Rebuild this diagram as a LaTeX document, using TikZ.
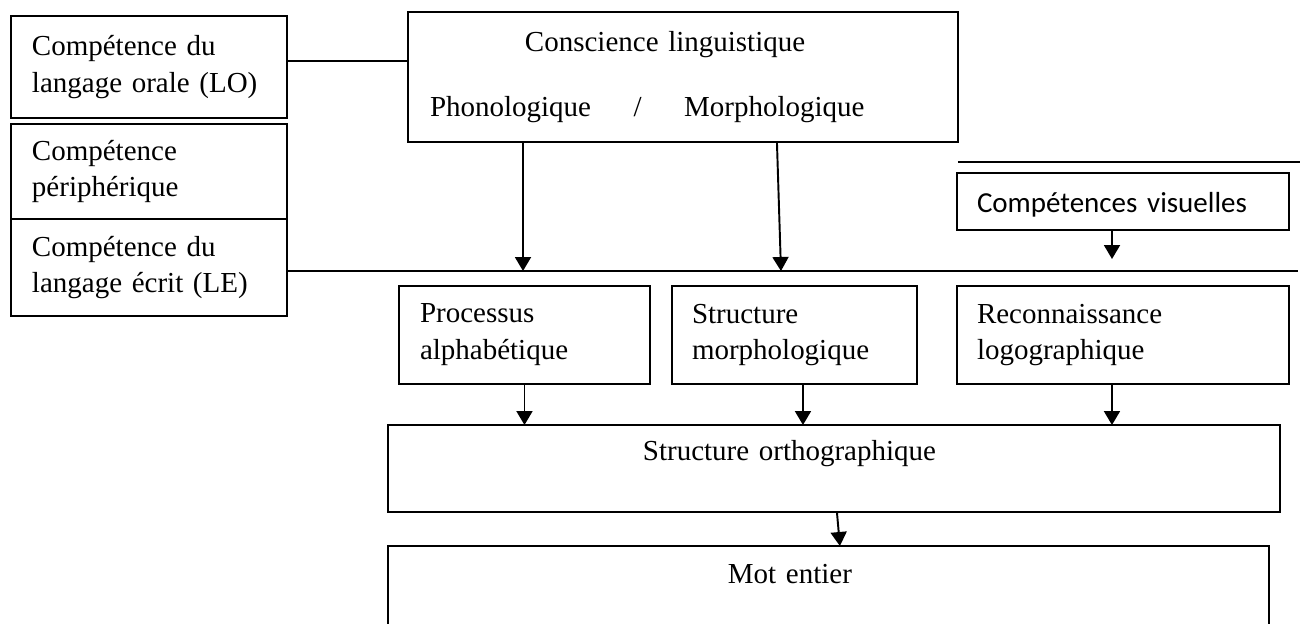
\documentclass[tikz,border=0pt]{standalone}
\usepackage{fontspec}
\setmainfont{Liberation Serif}
\newfontfamily\calibri{Carlito}
\usetikzlibrary{arrows.meta}

\begin{document}
\begin{tikzpicture}[x=0.02cm,y=-0.02cm,
	boite/.style={draw,line width=1.1pt,anchor=north west,inner ysep=0,outer sep=0,align=left,font=\fontsize{16.5}{21}\selectfont},
	trait/.style={line width=1.1pt},
	fleche/.style={line width=1.1pt,-{Triangle[length=0.28cm,width=0.32cm]}}]
	\useasboundingbox (0,0) rectangle (1301,623);
	\clip (0,0) rectangle (1301,623);
	\node[boite,minimum width=5.52cm,minimum height=2.04cm,inner xsep=0.42cm,text width=4.68cm] (lo) at (11,16) {Compétence du\\langage orale (LO)};
	\node[boite,minimum width=5.52cm,minimum height=1.90cm,inner xsep=0.42cm,text width=4.68cm] (periph) at (11,124) {Compétence\\périphérique};
	\node[boite,minimum width=5.52cm,minimum height=1.94cm,inner xsep=0.42cm,text width=4.68cm] (le) at (11,219) {Compétence du\\langage écrit (LE)};
	\node[boite,minimum width=11cm,minimum height=2.6cm,inner xsep=0.44cm,text width=10.12cm] (consc) at (408,12) {\hspace*{1.9cm}Conscience linguistique\\[16pt]Phonologique\hspace{0.85cm}/\hspace{0.85cm}Morphologique};
	\node[boite,minimum width=6.64cm,minimum height=1.14cm,inner xsep=0.4cm,text width=5.84cm,text height=0.45cm,text depth=0pt,font=\calibri\fontsize{16.5}{21}\selectfont] (visu) at (957,173) {Compétences visuelles};
	\node[boite,minimum width=5.02cm,minimum height=1.96cm,inner xsep=0.42cm,text width=4.18cm] (proc) at (399,286) {Processus\\alphabétique};
	\node[boite,minimum width=4.9cm,minimum height=1.96cm,inner xsep=0.4cm,text width=4.1cm] (struct) at (672,286) {Structure\\morphologique};
	\node[boite,minimum width=6.64cm,minimum height=1.96cm,inner xsep=0.4cm,text width=5.84cm] (recon) at (957,286) {Reconnaissance\\logographique};
	\node[boite,minimum width=17.84cm,minimum height=1.74cm,inner xsep=5.1cm,text width=7.64cm] (orth) at (388,425) {Structure orthographique\\~};
	\node[boite,minimum width=17.62cm,minimum height=1.86cm,inner xsep=6.8cm,text width=4.02cm] (mot) at (388,546) {Mot entier\\~};
	\coordinate (haut) at (1300,162);
	\coordinate (bas) at (1298,271);
	\coordinate (p1) at (523,271);
	\coordinate (p2) at (781,271);
	\coordinate (p3) at (1112,259);
	\coordinate (s2) at ([xshift=0.17cm]struct.south);
	\coordinate (s3) at ([xshift=-0.22cm]recon.south);
	\draw[trait] ([yshift=0.12cm]lo.east) coordinate (a) -- (a -| consc.west);
	\draw[trait] (le.east |- bas) -- (bas);
	\draw[trait] (consc.east |- haut) -- (haut);
	\draw[fleche] (consc.south -| p1) -- (p1);
	\draw[fleche] ([xshift=1.88cm]consc.south) -- (p2);
	\draw[fleche] (visu.south -| p3) -- (p3);
	\draw[fleche] (proc.south) -- (proc.south |- orth.north);
	\draw[fleche] (s2) -- (s2 |- orth.north);
	\draw[fleche] (s3) -- (s3 |- orth.north);
	\draw[fleche] ([xshift=0.06cm]orth.south) -- ([xshift=0.23cm]mot.north);
\end{tikzpicture}
\end{document}
